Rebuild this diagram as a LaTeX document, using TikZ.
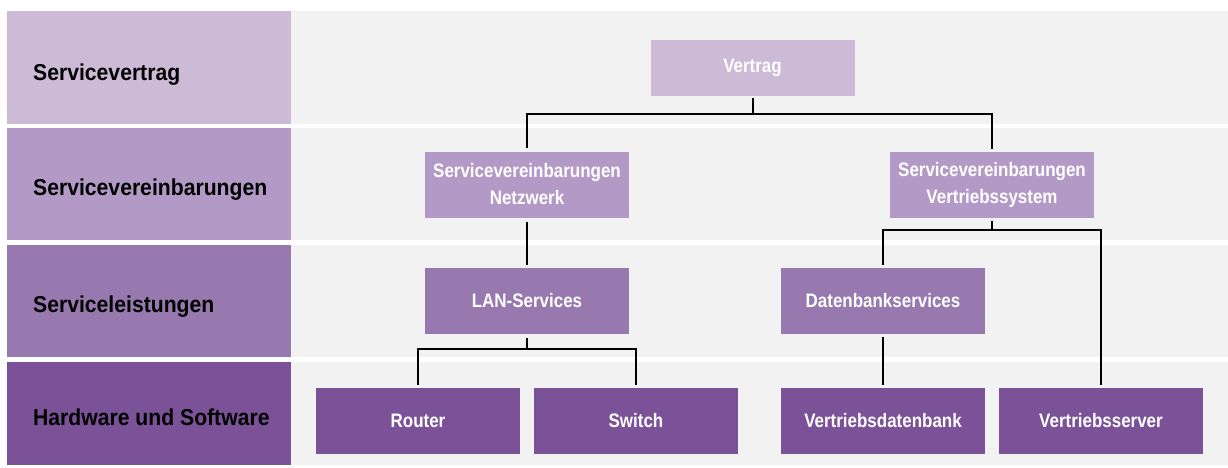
\documentclass[tikz,border=0pt]{standalone}
\usepackage{fontspec}
\newfontfamily\labelfont{Liberation Sans}[FakeStretch=0.92]
\newfontfamily\boxfont{Liberation Sans}[FakeStretch=0.87]
\definecolor{bandA}{HTML}{CCBAD7}
\definecolor{bandB}{HTML}{B39AC6}
\definecolor{bandC}{HTML}{9778AF}
\definecolor{bandD}{HTML}{7B5298}
\definecolor{bggray}{HTML}{F2F2F2}
\tikzset{
  lbl/.style={anchor=base west, inner sep=0pt, font=\labelfont\bfseries\fontsize{23}{27}\selectfont, text=black},
  sbox/.style={minimum width=204pt, minimum height=66pt, inner sep=0pt, align=center,
    font=\boxfont\bfseries\fontsize{19.5}{27}\selectfont, text=white},
  conn/.style={draw=black, line width=2pt}
}
\begin{document}
\begin{tikzpicture}[x=1pt,y=-1pt]
\useasboundingbox (0,0) rectangle (1228,467);
\fill[white] (0,0) rectangle (1228,467);
% bands
\fill[bandA] (7,11) rectangle (291,124);
\fill[bandB] (7,128) rectangle (291,240);
\fill[bandC] (7,245) rectangle (291,357);
\fill[bandD] (7,362) rectangle (291,465);
\fill[bggray] (291,11) rectangle (1228,124);
\fill[bggray] (291,128) rectangle (1228,240);
\fill[bggray] (291,245) rectangle (1228,357);
\fill[bggray] (291,362) rectangle (1228,465);
% left labels
\node[lbl] (l1) at (33,80) {Servicevertrag};
\node[lbl] (l2) at (33,195) {Servicevereinbarungen};
\node[lbl] (l3) at (33,312) {Serviceleistungen};
\node[lbl] (l4) at (33,425) {Hardware und Software};
% boxes
\node[sbox, fill=bandA, minimum height=56pt] (vert) at (752.5,68) {Vertrag};
\node[sbox, fill=bandB] (svn) at (527,184.5) {Servicevereinbarungen\\Netzwerk};
\node[sbox, fill=bandB] (svv) at (992,185) {Servicevereinbarungen\\Vertriebssystem};
\node[sbox, fill=bandC] (lan) at (527,301) {LAN-Services};
\node[sbox, fill=bandC] (dbs) at (883,301) {Datenbankservices};
\node[sbox, fill=bandD] (router) at (418,421) {Router};
\node[sbox, fill=bandD] (switch) at (636,421) {Switch};
\node[sbox, fill=bandD] (vdb) at (883,421) {Vertriebsdatenbank};
\node[sbox, fill=bandD] (vsrv) at (1101,421) {Vertriebsserver};
% connectors
\draw[conn] ([yshift=-2pt]vert.south) -- ++(0,16) -| ([yshift=3pt]svn.north);
\draw[conn] ([yshift=-2pt]vert.south) -- ++(0,16) -| ([yshift=3pt]svv.north);
\draw[conn] ([yshift=-4pt]svn.south) -- ([yshift=3pt]lan.north);
\draw[conn] ([yshift=-3pt]svv.south) -- ++(0,9) -| ([yshift=3pt]dbs.north);
\draw[conn] ([yshift=-3pt]svv.south) -- ++(0,9) -| ([yshift=3pt]vsrv.north);
\draw[conn] ([yshift=-3pt]dbs.south) -- ([yshift=3pt]vdb.north);
\draw[conn] ([yshift=-4pt]lan.south) -- ++(0,11) -| ([yshift=3pt]router.north);
\draw[conn] ([yshift=-4pt]lan.south) -- ++(0,11) -| ([yshift=3pt]switch.north);
\end{tikzpicture}
\end{document}
